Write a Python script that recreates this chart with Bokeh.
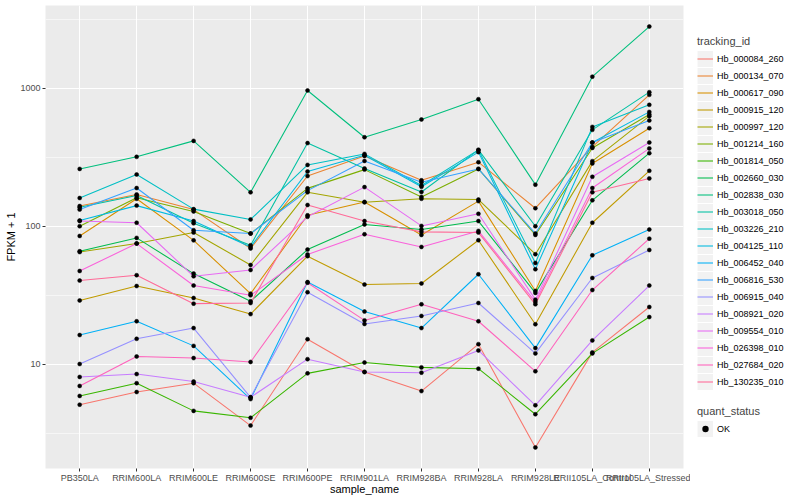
import math
from bokeh.plotting import figure
from bokeh.layouts import row
from bokeh.models import (FactorRange, Range1d, FixedTicker, NumeralTickFormatter,
                          Legend, LegendItem, ColumnDataSource)
from bokeh.embed import file_html
from bokeh.resources import INLINE

# ---------------- data ----------------
samples = ["PB350LA", "RRIM600LA", "RRIM600LE", "RRIM600SE", "RRIM600PE", "RRIM901LA",
           "RRIM928BA", "RRIM928LA", "RRIM928LE", "RRII105LA_Control", "RRII105LA_Stressed"]

tracking_ids = ["Hb_000084_260", "Hb_000134_070", "Hb_000617_090", "Hb_000915_120",
                "Hb_000997_120", "Hb_001214_160", "Hb_001814_050", "Hb_002660_030",
                "Hb_002838_030", "Hb_003018_050", "Hb_003226_210", "Hb_004125_110",
                "Hb_006452_040", "Hb_006816_530", "Hb_006915_040", "Hb_008921_020",
                "Hb_009554_010", "Hb_026398_010", "Hb_027684_020", "Hb_130235_010"]

hb_000084_260 = [5.1, 6.3, 7.3, 3.6, 15.2, 8.8, 6.4, 14.0, 2.5, 12.2, 26.0]
hb_000134_070 = [140, 170, 132, 69, 231, 323, 215, 291, 135, 375, 894]
hb_000617_090 = [85, 158, 79, 32.5, 120, 150, 86.5, 152, 34, 285, 513]
hb_000915_120 = [29.0, 36.9, 30.2, 23.1, 60.7, 37.8, 38.5, 79.2, 19.5, 106, 252]
hb_000997_120 = [65, 75, 90, 52.4, 176, 149, 158, 156, 62.7, 296, 627]
hb_001214_160 = [100, 161, 128, 88.5, 188, 257, 163, 260, 86.5, 369, 645]
hb_001814_050 = [5.9, 7.3, 4.6, 4.1, 8.6, 10.3, 9.5, 9.3, 4.35, 12.0, 22.0]
hb_002660_030 = [65.9, 82.3, 45.4, 28.6, 67.8, 103, 94.6, 109, 32.9, 154, 338]
hb_002838_030 = [260, 318, 415, 176, 962, 441, 593, 832, 200, 1211, 2793]
hb_003018_050 = [137, 167, 105, 72.8, 400, 262, 177, 357, 100, 499, 935]
hb_003226_210 = [160, 237, 133, 112, 278, 334, 197, 357, 54.2, 524, 757]
hb_004125_110 = [110, 141, 109, 70.8, 249, 327, 193, 344, 48.8, 404, 673]
hb_006452_040 = [16.3, 20.5, 13.6, 5.6, 39.4, 24.1, 18.3, 44.9, 13.1, 61.6, 94.6]
hb_006816_530 = [132, 189, 93.5, 88.5, 181, 297, 208, 260, 88.5, 404, 583]
hb_006915_040 = [10.05, 15.3, 18.3, 5.77, 33.3, 19.6, 22.4, 27.8, 12.0, 42.2, 67.3]
hb_008921_020 = [8.1, 8.5, 7.5, 5.77, 10.9, 8.8, 8.7, 12.6, 5.05, 14.9, 37.2]
hb_009554_010 = [109, 106, 43.4, 48.2, 117, 192, 100.5, 123, 29.4, 228, 404]
hb_026398_010 = [47.4, 74.9, 37.2, 31.6, 62.4, 87.5, 70.8, 92.5, 28.3, 189, 366]
hb_027684_020 = [6.97, 11.4, 11.1, 10.4, 39, 20.8, 27.2, 20.5, 8.9, 34.5, 81.3]
hb_130235_010 = [40.4, 44.2, 27.5, 27.8, 142.5, 109, 91, 90, 27.2, 176, 222]

series_values = [hb_000084_260, hb_000134_070, hb_000617_090, hb_000915_120,
                 hb_000997_120, hb_001214_160, hb_001814_050, hb_002660_030,
                 hb_002838_030, hb_003018_050, hb_003226_210, hb_004125_110,
                 hb_006452_040, hb_006816_530, hb_006915_040, hb_008921_020,
                 hb_009554_010, hb_026398_010, hb_027684_020, hb_130235_010]

quant_status = ["OK"]
y_major = [10, 100, 1000]


# ------------- ggplot hue palette -------------
def hue_hex(h, c=100.0, l=65.0):
    Xn, Yn, Zn = 95.047, 100.0, 108.883
    den = Xn + 15 * Yn + 3 * Zn
    un, vn = 4 * Xn / den, 9 * Yn / den
    hr = math.radians(h)
    U, V = c * math.cos(hr), c * math.sin(hr)
    Y = Yn * ((l + 16) / 116) ** 3
    u = U / (13 * l) + un
    v = V / (13 * l) + vn
    X = Y * 9 * u / (4 * v)
    Z = Y * (12 - 3 * u - 20 * v) / (4 * v)
    X, Y, Z = X / 100, Y / 100, Z / 100
    r = 3.240479 * X - 1.537150 * Y - 0.498535 * Z
    g = -0.969256 * X + 1.875992 * Y + 0.041556 * Z
    b = 0.055648 * X - 0.204043 * Y + 1.057311 * Z

    def gam(t):
        t = 1.055 * t ** (1 / 2.4) - 0.055 if t > 0.0031308 else 12.92 * t
        return int(round(min(max(t, 0.0), 1.0) * 255))
    return "#%02X%02X%02X" % (gam(r), gam(g), gam(b))


n = len(tracking_ids)
colors = [hue_hex(15 + 360.0 * i / n) for i in range(n)]

# ------------- ranges (ggplot-like 5% expansion in log space) -------------
all_vals = [v for s in series_values for v in s]
lmin, lmax = math.log10(min(all_vals)), math.log10(max(all_vals))
pad = 0.05 * (lmax - lmin)
y_lo, y_hi = 10 ** (lmin - pad), 10 ** (lmax + pad)

FONT = "Liberation Sans"
H = 500

p = figure(x_range=FactorRange(factors=samples, range_padding=0.1, range_padding_units="absolute"),
           y_range=Range1d(y_lo, y_hi), y_axis_type="log",
           width=690, height=H, output_backend="svg", toolbar_location=None,
           min_border_left=45, min_border_right=7, min_border_top=5, min_border_bottom=32,
           background_fill_color="#EBEBEB", border_fill_color="white", outline_line_color=None)

# grid
p.xgrid.grid_line_color = "white"
p.xgrid.grid_line_width = 1.07
yt = FixedTicker(ticks=y_major, minor_ticks=[10 ** (k + 0.5) for k in range(-1, 5)])
p.yaxis.ticker = yt
p.ygrid.ticker = yt
p.ygrid.grid_line_color = "white"
p.ygrid.grid_line_width = 1.07
p.ygrid.minor_grid_line_color = "white"
p.ygrid.minor_grid_line_width = 0.55
p.yaxis.formatter = NumeralTickFormatter(format="0")

for ax in (p.xaxis, p.yaxis):
    ax.axis_line_color = None
    ax.major_tick_line_color = "#333333"
    ax.major_tick_in = 0
    ax.major_tick_out = 3
    ax.minor_tick_line_color = None
    ax.major_label_text_font = FONT
    ax.major_label_text_font_size = "9px"
    ax.major_label_text_color = "#4D4D4D"
    ax.major_label_standoff = 1
    ax.axis_label_text_font = FONT
    ax.axis_label_text_font_size = "11px"
    ax.axis_label_text_font_style = "normal"
    ax.axis_label_text_color = "black"
    ax.axis_label_standoff = 0
p.xaxis.axis_label_standoff = -3
p.xaxis.axis_label = "sample_name"
p.yaxis.axis_label = "FPKM + 1"

for name, vals, col in zip(tracking_ids, series_values, colors):
    p.line(x=samples, y=vals, line_color=col, line_width=1.07)

px, py = [], []
for vals in series_values:
    px.extend(samples)
    py.extend(vals)
p.scatter(x="x", y="y", source=ColumnDataSource(dict(x=px, y=py)),
          marker="circle", size=4.0, fill_color="black", line_color="black", line_width=0.5)

# ------------- legend panel (separate, axis-less figure) -------------
lf = figure(width=110, height=H, x_range=Range1d(0, 1), y_range=Range1d(0, 1),
            output_backend="svg", toolbar_location=None, min_border=0,
            x_axis_location=None, y_axis_location=None, outline_line_color=None,
            background_fill_color="white", border_fill_color="white")
lf.grid.grid_line_color = None

# off-range data so the glyphs only show up as legend keys
off_x, off_y = [-10, -9], [-10, -10]
key_bg = lf.line(x=off_x, y=off_y, line_color="#F2F2F2", line_width=16)
items = []
for name, col in zip(tracking_ids, colors):
    r = lf.line(x=off_x, y=off_y, line_color=col, line_width=1.07)
    items.append(LegendItem(label=name, renderers=[key_bg, r]))
pt_key = lf.scatter(x=off_x[:1], y=off_y[:1], marker="circle", size=4.0, fill_color="black",
                    line_color=None)


def make_legend(title, its, loc):
    return Legend(items=its, location=loc, title=title,
                  padding=0, margin=0, spacing=0, label_standoff=4,
                  glyph_width=16, glyph_height=17, label_height=17,
                  label_text_font=FONT, label_text_font_size="9px", label_text_color="black",
                  title_text_font=FONT, title_text_font_size="11px", title_text_font_style="normal",
                  title_standoff=3, background_fill_alpha=0, border_line_alpha=0)


leg1 = make_legend("tracking_id", items, (7, 78))
leg2 = make_legend("quant_status", [LegendItem(label=quant_status[0], renderers=[key_bg, pt_key])], (7, 31))
lf.add_layout(leg1, "center")
lf.add_layout(leg2, "center")

layout = row(p, lf)
open("out.html", "w").write(file_html(layout, INLINE))
